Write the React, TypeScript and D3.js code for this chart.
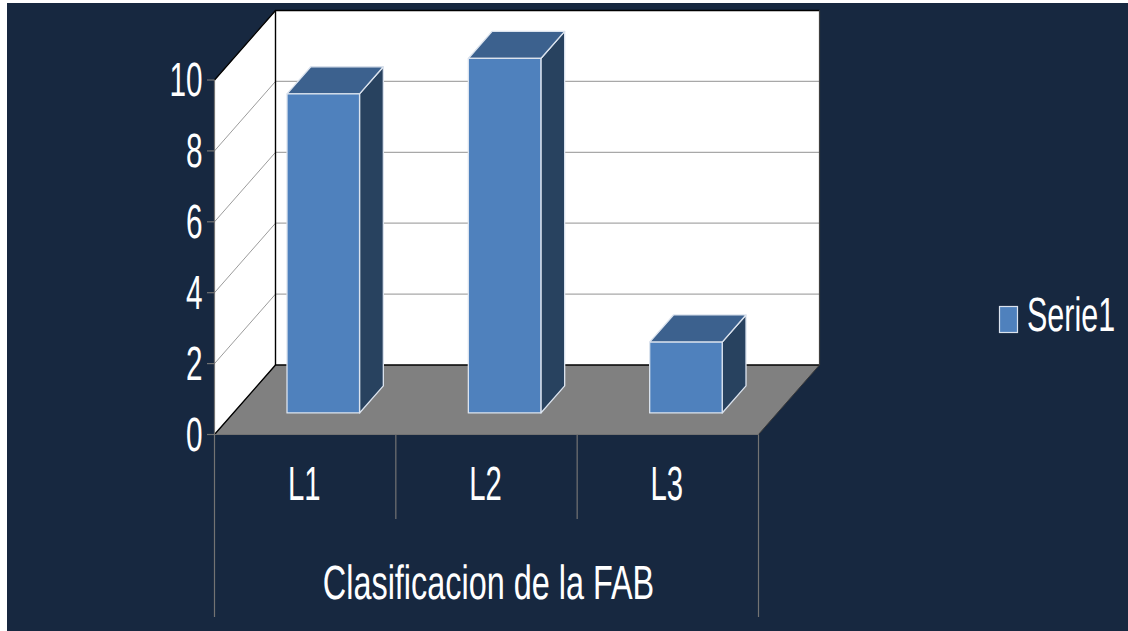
import React from "react";
import * as d3 from "d3";

const categories = ["L1", "L2", "L3"];
const seriesValues = [9, 10, 2];
const yTicks = [0, 2, 4, 6, 8, 10];
const seriesName = "Serie1";
const axisTitle = "Clasificacion de la FAB";

const W = 1128;
const H = 631;
const NAVY = "#172840";
const FONT = "'Liberation Sans', Arial, sans-serif";

// Oblique projection of the plot box: front-left origin plus a depth vector.
const X0 = 214.5;
const X1 = 758.5;
const Y0 = 434.5;
const Y_TOP = 80;
const DEPTH_X = 61;
const DEPTH_Y = -69.5;

const x = d3.scaleBand<string>().domain(categories).range([X0, X1]);
const y = d3.scaleLinear().domain([0, 10]).range([Y0, Y_TOP]);

const BAR_WIDTH = x.bandwidth() * 0.4;
const BAR_FRONT_DEPTH = 0.31;
const BAR_BACK_DEPTH = 0.7;

const poly = (pts: [number, number][]) => d3.line()(pts)! + "Z";

type LabelProps = {
  px: number;
  py: number;
  text: string;
  anchor: "start" | "middle" | "end";
  sx: number;
  size?: number;
};

// Narrow tall lettering: horizontally squeezed around its anchor point.
function Label({ px, py, text, anchor, sx, size = 48 }: LabelProps) {
  return (
    <text
      transform={`translate(${px},${py}) scale(${sx},1)`}
      textAnchor={anchor}
      fontFamily={FONT}
      fontSize={size}
      fill="#ffffff"
      textRendering="geometricPrecision"
    >
      {text}
    </text>
  );
}

function Bar({ category, value }: { category: string; value: number }) {
  const cx = x(category)! + x.bandwidth() / 2 + BAR_FRONT_DEPTH * DEPTH_X - 0.8;
  const left = cx - BAR_WIDTH / 2;
  const right = cx + BAR_WIDTH / 2;
  const bottom = Y0 + BAR_FRONT_DEPTH * DEPTH_Y;
  const top = bottom - (Y0 - y(value));
  const dx = (BAR_BACK_DEPTH - BAR_FRONT_DEPTH) * DEPTH_X;
  const dy = (BAR_BACK_DEPTH - BAR_FRONT_DEPTH) * DEPTH_Y;
  const edge = { stroke: "#dbe3ee", strokeWidth: 1.3, strokeLinejoin: "round" as const };
  return (
    <g>
      <path
        d={poly([[right, bottom], [right + dx, bottom + dy], [right + dx, top + dy], [right, top]])}
        fill="#28425f"
        {...edge}
      />
      <path
        d={poly([[left, top], [left + dx, top + dy], [right + dx, top + dy], [right, top]])}
        fill="#3c618e"
        {...edge}
      />
      <rect x={left} y={top} width={right - left} height={bottom - top} fill="#4f81bd" {...edge} />
    </g>
  );
}

export default function App() {
  const backLeft = X0 + DEPTH_X;
  const backRight = X1 + DEPTH_X;
  const axisGrey = "#737373";
  const boundaries = d3.range(categories.length + 1).map((i) => X0 + i * x.step());

  return (
    <svg
      width={W}
      height={H}
      viewBox={`0 0 ${W} ${H}`}
      style={{ position: "fixed", left: 0, top: 0, background: "#ffffff" }}
    >
      <rect x={7} y={3} width={W - 7} height={H - 3} fill={NAVY} />

      {/* Back wall, side wall and floor */}
      <path
        d={poly([[backLeft, Y_TOP + DEPTH_Y], [backRight, Y_TOP + DEPTH_Y], [backRight, Y0 + DEPTH_Y], [backLeft, Y0 + DEPTH_Y]])}
        fill="#ffffff"
      />
      <path
        d={poly([[X0, Y_TOP], [backLeft, Y_TOP + DEPTH_Y], [backLeft, Y0 + DEPTH_Y], [X0, Y0]])}
        fill="#ffffff"
      />
      <path
        d={poly([[X0, Y0], [backLeft, Y0 + DEPTH_Y], [backRight, Y0 + DEPTH_Y], [X1, Y0]])}
        fill="#808080"
      />

      {/* Gridlines across both walls */}
      {yTicks.slice(1, -1).concat(10).map((t) => (
        <g key={t}>
          <line x1={X0} x2={backLeft} y1={y(t)} y2={y(t) + DEPTH_Y} stroke="#9c9c9c" strokeWidth={1} />
          {t < 10 && (
            <line x1={backLeft} x2={backRight} y1={y(t) + DEPTH_Y} y2={y(t) + DEPTH_Y} stroke="#a8a8a8" strokeWidth={1.2} />
          )}
        </g>
      ))}

      {/* Wall outlines */}
      <g stroke="#000000" strokeWidth={1.4} fill="none">
        <path d={d3.line()([[X0, Y_TOP], [backLeft, Y_TOP + DEPTH_Y], [backRight, Y_TOP + DEPTH_Y]])!} />
        <path d={d3.line()([[X0, Y0], [backLeft, Y0 + DEPTH_Y], [backRight, Y0 + DEPTH_Y]])!} />
        <line x1={backLeft} x2={backLeft} y1={Y_TOP + DEPTH_Y} y2={Y0 + DEPTH_Y} />
      </g>
      <line x1={backRight} x2={backRight} y1={Y_TOP + DEPTH_Y} y2={Y0 + DEPTH_Y} stroke="#404040" strokeWidth={1.2} />
      <line x1={X1} y1={Y0} x2={backRight} y2={Y0 + DEPTH_Y} stroke="#3a3a3a" strokeWidth={1} />

      {categories.map((c, i) => (
        <Bar key={c} category={c} value={seriesValues[i]} />
      ))}

      {/* Axes */}
      <g stroke={axisGrey} strokeWidth={1.2}>
        <line x1={X0} x2={X0} y1={Y_TOP} y2={617} />
        <line x1={X0} x2={X1} y1={Y0} y2={Y0} />
        {yTicks.map((t) => (
          <line key={t} x1={207} x2={X0} y1={y(t)} y2={y(t)} />
        ))}
        {boundaries.slice(1, -1).map((b) => (
          <line key={b} x1={b} x2={b} y1={Y0} y2={519} />
        ))}
        <line x1={X1} x2={X1} y1={Y0} y2={617} />
      </g>

      {yTicks.map((t) => (
        <Label key={t} px={202.5} py={y(t) + 16} text={String(t)} anchor="end" sx={0.62} />
      ))}
      {categories.map((c) => (
        <Label key={c} px={x(c)! + x.bandwidth() / 2 - 1} py={500} text={c} anchor="middle" sx={0.61} />
      ))}
      <Label px={488.5} py={599} text={axisTitle} anchor="middle" sx={0.675} />

      {/* Legend */}
      <rect x={999.5} y={306.5} width={18} height={26} fill="#4f81bd" stroke="#dbe3ee" strokeWidth={1.2} />
      <Label px={1027} py={331} text={seriesName} anchor="start" sx={0.635} />
    </svg>
  );
}
